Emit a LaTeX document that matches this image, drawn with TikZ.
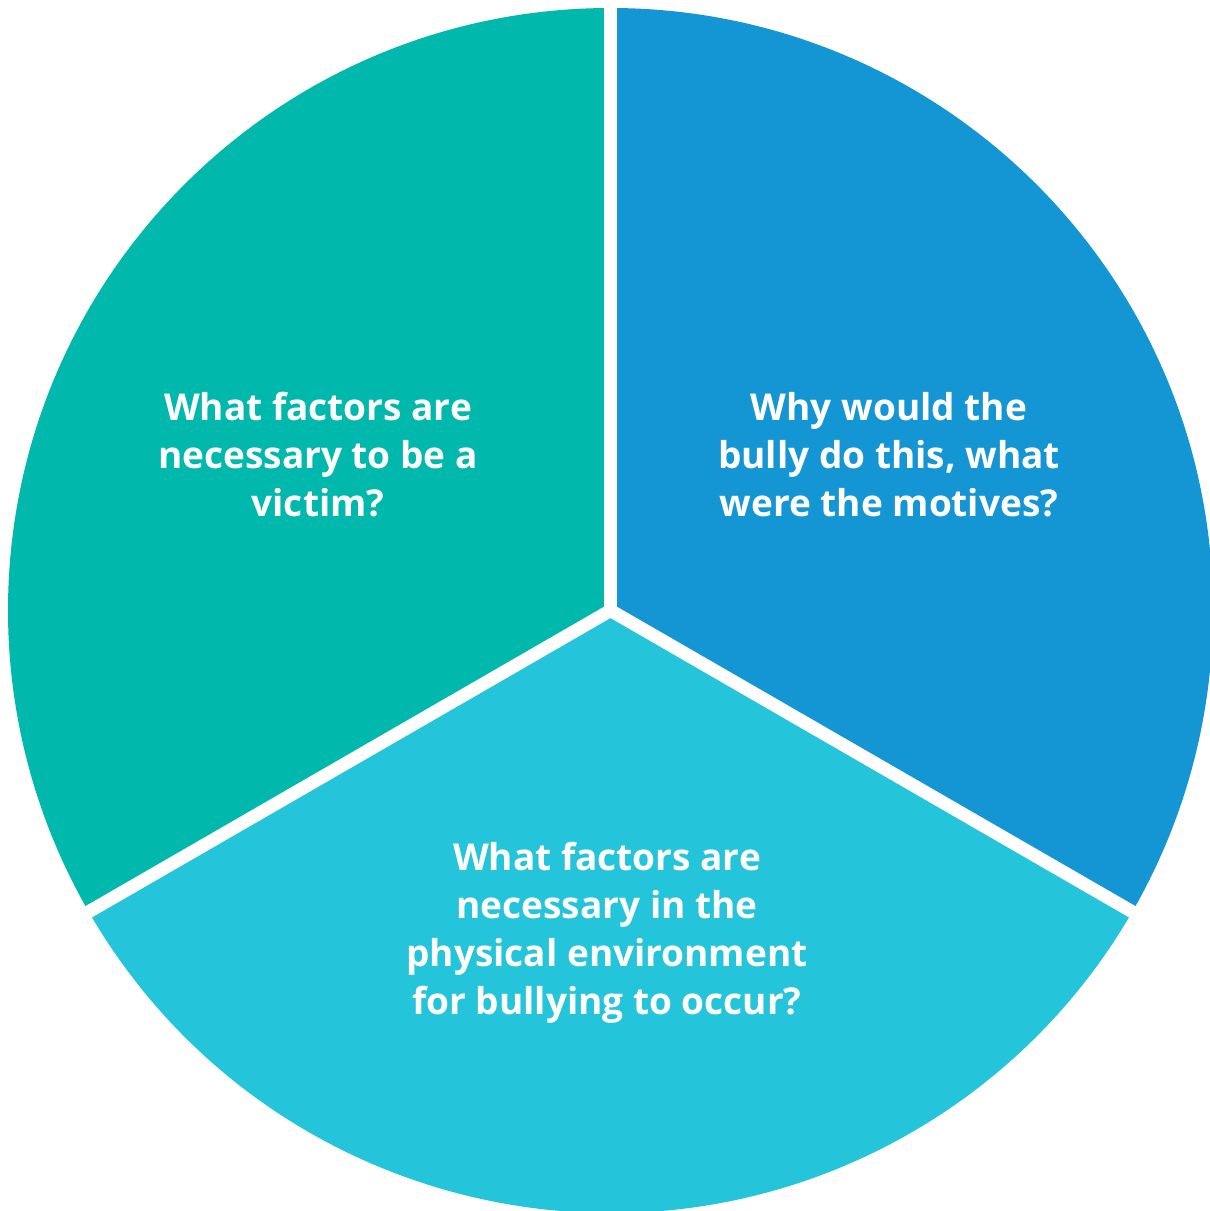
\documentclass[tikz,border=0pt]{standalone}
\usepackage{fontspec}
\setmainfont{Open Sans}
\definecolor{cteal}{RGB}{0,184,172}
\definecolor{cblue}{RGB}{21,150,212}
\definecolor{ccyan}{RGB}{36,196,218}
\begin{document}
\begin{tikzpicture}[x=1pt,y=-1pt,
  lbl/.style={text=white,font=\fontsize{37}{48}\selectfont\bfseries,align=center},
  gap/.style={white,line width=13pt}]
\useasboundingbox (0,0) rectangle (1210,1211);
\clip (0,0) rectangle (1210,1211);
\coordinate (c) at (610.5,610.5);
\fill[cteal] (c) -- ++(0,-602.5) arc[start angle=-90,end angle=-210,radius=602.5] -- cycle;
\fill[cblue] (c) -- ++(0,-602.5) arc[start angle=-90,end angle=30,radius=602.5] -- cycle;
\fill[ccyan] (c) -- ++(150:602.5) arc[start angle=150,end angle=30,radius=602.5] -- cycle;
\draw[gap] (c) -- ++(0,-620) coordinate (e1);
\draw[gap] (c) -- ++(150:620) coordinate (e2);
\draw[gap] (c) -- ++(30:620) coordinate (e3);
\node[lbl] (l) at (318,455) {What factors are\\necessary to be a\\victim?};
\node[lbl] (r) at (889,455) {Why would the\\bully do this, what\\were the motives?};
\node[lbl] (b) at (607,933) {What factors are\\necessary in the\\physical environment\\for bullying to occur?};
\end{tikzpicture}
\end{document}
